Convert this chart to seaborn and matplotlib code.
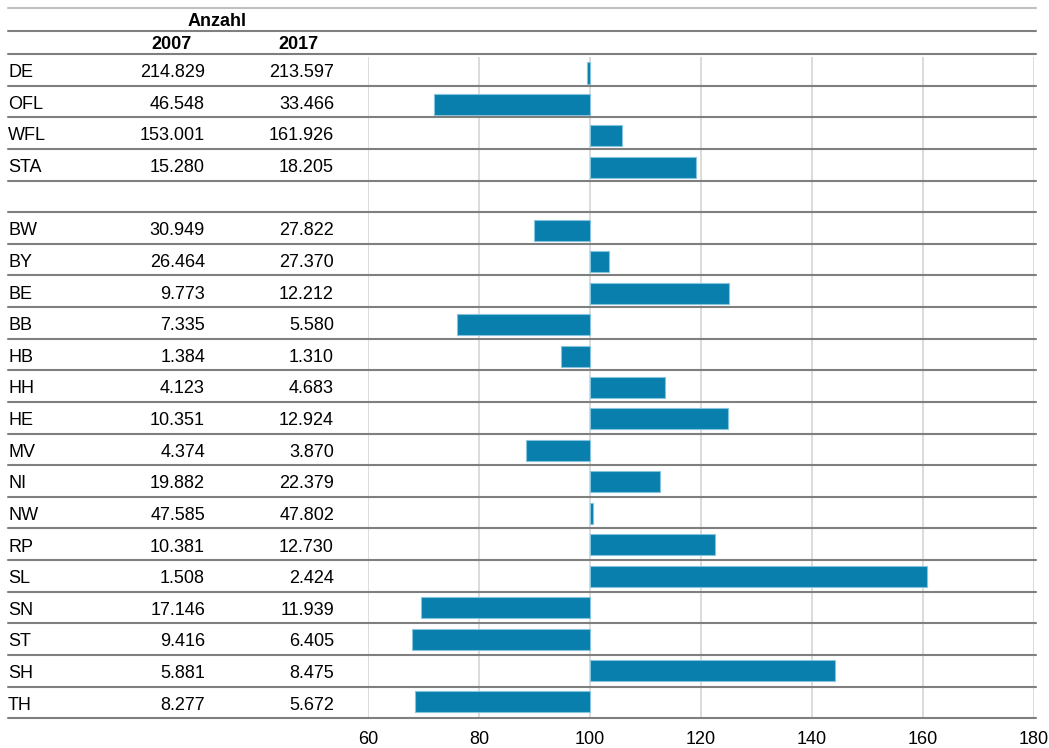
import matplotlib
matplotlib.use("Agg")
import matplotlib.pyplot as plt
import seaborn as sns
import pandas as pd

# ---- data ----
rows = ["DE", "OFL", "WFL", "STA", "", "BW", "BY", "BE", "BB", "HB", "HH", "HE",
        "MV", "NI", "NW", "RP", "SL", "SN", "ST", "SH", "TH"]
count_2007 = [214829, 46548, 153001, 15280, None, 30949, 26464, 9773, 7335, 1384, 4123,
              10351, 4374, 19882, 47585, 10381, 1508, 17146, 9416, 5881, 8277]
count_2017 = [213597, 33466, 161926, 18205, None, 27822, 27370, 12212, 5580, 1310, 4683,
              12924, 3870, 22379, 47802, 12730, 2424, 11939, 6405, 8475, 5672]
index_2017 = [99.4, 71.9, 105.8, 119.1, None, 89.9, 103.4, 125.0, 76.1, 94.7, 113.6,
              124.9, 88.5, 112.6, 100.5, 122.6, 160.7, 69.6, 68.0, 144.1, 68.5]
x_ticks = [60, 80, 100, 120, 140, 160, 180]
header_group = "Anzahl"
header_years = ["2007", "2017"]
base = 100

sns.set_theme(style="white")
plt.rcParams["font.family"] = ["Liberation Sans", "DejaVu Sans"]

W, H = 1049, 748
fig = plt.figure(figsize=(W / 100, H / 100), dpi=100)
ax = fig.add_axes([368 / W, 1 - 718 / H, 666 / W, (718 - 57) / H])

df = pd.DataFrame({"row": rows, "idx": index_2017})
df = df[df["row"] != ""].copy()
df["dev"] = df["idx"] - base

sns.barplot(data=df, y="row", x="dev", order=rows, orient="h", ax=ax,
            color="#087fac", width=0.67, left=base, errorbar=None,
            edgecolor="#86c3dd", linewidth=0.8, saturation=1)

ax.set_xlim(60, 180)
ax.set_ylim(20.51, -0.509)
ax.set_xticks(x_ticks)
ax.set_xticklabels([str(t) for t in x_ticks])
ax.set_yticks([])
ax.set_xlabel("")
ax.set_ylabel("")
for s in ax.spines.values():
    s.set_visible(False)
ax.grid(axis="x", color="#d9d9d9", linewidth=1.3)
ax.set_axisbelow(True)
ax.tick_params(axis="x", length=0, pad=9, labelsize=13, labelcolor="#000000")

def P(px, py):
    return px / W, 1 - py / H

tf = fig.transFigure
top_row, row_h = 54.0, 31.63

# horizontal rule lines
def hline(py, color):
    x0, y0 = P(8, py)
    x1, _ = P(1036, py)
    fig.add_artist(plt.Line2D([x0, x1], [y0, y0], transform=tf, color=color,
                              linewidth=1.5, zorder=1))

for k in range(len(rows) + 1):
    hline(top_row + row_h * k, "#7f7f7f")
hline(31, "#7f7f7f")
hline(7.5, "#c0c0c0")

# headers
fig.text(*P(217, 26.5), header_group, ha="center", va="baseline",
         fontsize=13, fontweight="bold", color="#000000")
fig.text(*P(172, 49.2), header_years[0], ha="center", va="baseline",
         fontsize=13, fontweight="bold", color="#000000")
fig.text(*P(298, 49.2), header_years[1], ha="center", va="baseline",
         fontsize=13, fontweight="bold", color="#000000")

def fmt(v):
    return f"{v:,}".replace(",", ".")

for i, (lab, a, b) in enumerate(zip(rows, count_2007, count_2017)):
    if lab == "":
        continue
    yb = top_row + row_h * (i + 0.5) + 7.3
    fig.text(*P(8, yb), lab, ha="left", va="baseline", fontsize=13, color="#000000")
    fig.text(*P(205, yb), fmt(a), ha="right", va="baseline", fontsize=13, color="#000000")
    fig.text(*P(334, yb), fmt(b), ha="right", va="baseline", fontsize=13, color="#000000")

fig.savefig("out.png", dpi=100, facecolor="white")
